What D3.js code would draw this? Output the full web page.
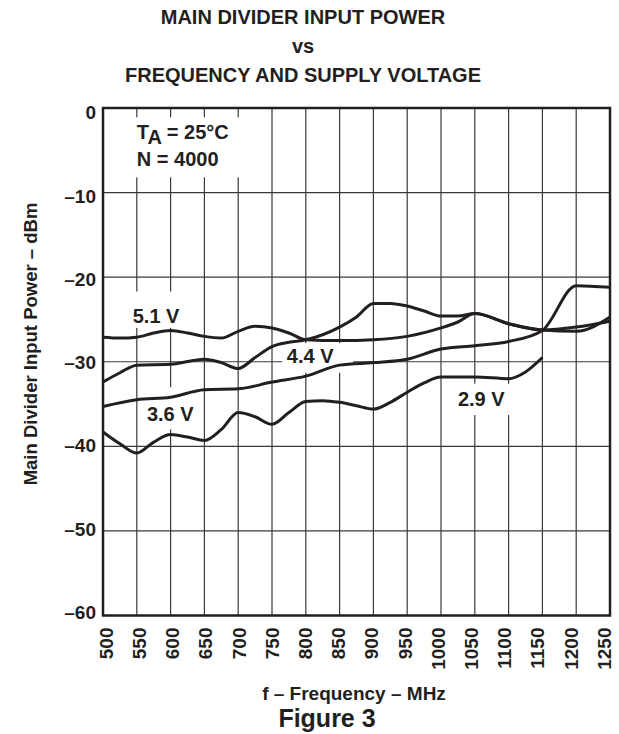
<!DOCTYPE html>
<html>
<head>
<meta charset="utf-8">
<script src="https://cdn.jsdelivr.net/npm/d3@7"></script>
<style>
  body { margin: 0; background: #fff; }
  svg text { font-family: "Liberation Sans", Arial, Helvetica, sans-serif; font-weight: bold; fill: #231f20; }
</style>
</head>
<body>
<svg id="chart" width="619" height="734"></svg>
<script>
// x ticks (MHz) and y ticks (dBm)
const freqTicks = [500, 550, 600, 650, 700, 750, 800, 850, 900, 950, 1000, 1050, 1100, 1150, 1200, 1250];
const powerTicks = [0, -10, -20, -30, -40, -50, -60];

// supply voltage curves
const v51Freq = [500, 525, 550, 575, 600, 625, 650, 675, 700, 725, 750, 775, 800, 850, 900, 950, 1000, 1025, 1050, 1100, 1150, 1200, 1250];
const v51 = [-27.1, -27.2, -27.1, -26.6, -26.3, -26.6, -27.0, -27.2, -26.4, -25.8, -26.0, -26.6, -27.4, -27.5, -27.4, -27.0, -26.0, -25.3, -24.3, -25.5, -26.25, -25.9, -25.2];

const v44Freq = [500, 525, 550, 600, 650, 675, 700, 725, 750, 775, 800, 850, 875, 900, 925, 950, 975, 1000, 1025, 1050, 1100, 1150, 1200, 1250];
const v44 = [-32.4, -31.3, -30.4, -30.3, -29.7, -30.1, -30.8, -29.5, -28.2, -27.7, -27.4, -25.9, -24.7, -23.1, -23.1, -23.4, -24.0, -24.6, -24.6, -24.3, -25.5, -26.25, -26.4, -24.7];

const v36Freq = [500, 550, 600, 650, 700, 750, 800, 850, 900, 950, 1000, 1050, 1100, 1150, 1200, 1250];
const v36 = [-35.3, -34.5, -34.2, -33.3, -33.2, -32.4, -31.7, -30.4, -30.1, -29.7, -28.5, -28.1, -27.6, -26.3, -21.0, -21.2];

const v29Freq = [500, 525, 550, 575, 600, 625, 650, 675, 700, 725, 750, 775, 800, 825, 850, 875, 900, 925, 950, 975, 1000, 1050, 1100, 1125, 1150];
const v29 = [-38.3, -39.7, -40.8, -39.5, -38.6, -38.9, -39.3, -38.0, -36.0, -36.5, -37.4, -36.0, -34.7, -34.6, -34.8, -35.2, -35.6, -34.8, -33.6, -32.5, -31.8, -31.8, -32.0, -31.2, -29.5];

const seriesFreq = [v51Freq, v44Freq, v36Freq, v29Freq];
const seriesVals = [v51, v44, v36, v29];

const svg = d3.select("#chart");
const plotL = 103, plotR = 610, plotT = 108, plotB = 615.5;

const x = d3.scaleLinear().domain([500, 1250]).range([plotL, plotR]);
const y = d3.scaleLinear().domain([-60, 0]).range([plotB, plotT]);
// tick labels sit a little inside the end grid lines
const xLbl = d3.scaleLinear().domain([500, 1250]).range([plotL + 3, plotR - 6]);
const yLbl = d3.scaleLinear().domain([-60, 0]).range([plotB - 4, plotT + 4]);

// grid
const grid = svg.append("g").attr("stroke", "#3a3a3a").attr("stroke-width", 1.2);
grid.selectAll("line.v").data(freqTicks.slice(1, -1)).join("line")
  .attr("class", "v")
  .attr("x1", d => x(d)).attr("x2", d => x(d))
  .attr("y1", plotT).attr("y2", plotB);
grid.selectAll("line.h").data(powerTicks.slice(1, -1)).join("line")
  .attr("class", "h")
  .attr("x1", plotL).attr("x2", plotR)
  .attr("y1", d => y(d)).attr("y2", d => y(d));

// white boxes behind the in-plot labels (they break the grid)
const boxes = [
  [x(528), y(-1.1), x(710) - x(528), y(-8.2) - y(-1.1)],
  [x(532), y(-21.7), x(620) - x(532), y(-26.0) - y(-21.7)],
  [x(765), y(-27.8), x(870) - x(765), y(-31.3) - y(-27.8)],
  [x(553), y(-33.0), x(640) - x(553), y(-38.0) - y(-33.0)],
  [x(1012), y(-32.6), x(1105) - x(1012), y(-36.3) - y(-32.6)]
];
svg.append("g").selectAll("rect").data(boxes).join("rect")
  .attr("x", d => d[0]).attr("y", d => d[1])
  .attr("width", d => d[2]).attr("height", d => d[3])
  .attr("fill", "#fff");

// curves
const line = d3.line()
  .x(d => x(d[0]))
  .y(d => y(d[1]))
  .curve(d3.curveMonotoneX);

svg.append("g").selectAll("path")
  .data(seriesVals.map((vals, i) => vals.map((v, j) => [seriesFreq[i][j], v])))
  .join("path")
  .attr("d", line)
  .attr("fill", "none")
  .attr("stroke", "#231f20")
  .attr("stroke-width", 3);

// frame
svg.append("rect")
  .attr("x", plotL).attr("y", plotT)
  .attr("width", plotR - plotL).attr("height", plotB - plotT)
  .attr("fill", "none").attr("stroke", "#231f20").attr("stroke-width", 2.5);

// axes (labels only)
const xAxis = svg.append("g")
  .attr("transform", `translate(0,${plotB})`)
  .call(d3.axisBottom(xLbl).tickValues(freqTicks).tickSize(0).tickPadding(0).tickFormat(d3.format("d")));
xAxis.select(".domain").remove();
xAxis.selectAll(".tick").attr("transform", null);
xAxis.selectAll("text")
  .attr("transform", d => `translate(${xLbl(d)},12) rotate(-90)`)
  .attr("x", 0).attr("y", 0)
  .attr("text-anchor", "end")
  .attr("dy", "0.36em")
  .style("font-size", "19px");

const yAxis = svg.append("g")
  .attr("transform", `translate(${plotL},0)`)
  .call(d3.axisLeft(yLbl).tickValues(powerTicks).tickSize(0).tickPadding(7)
    .tickFormat(d => d === 0 ? "0" : "\u2013" + Math.abs(d)));
yAxis.select(".domain").remove();
yAxis.selectAll("text").style("font-size", "19px").attr("dy", "0.36em");

// titles
const title = svg.append("g").attr("text-anchor", "middle").style("font-size", "20px");
title.append("text").attr("x", 303).attr("y", 24).text("MAIN DIVIDER INPUT POWER");
title.append("text").attr("x", 303).attr("y", 53).text("vs");
title.append("text").attr("x", 303).attr("y", 82).text("FREQUENCY AND SUPPLY VOLTAGE");

svg.append("text")
  .attr("transform", "translate(37,344) rotate(-90)")
  .attr("text-anchor", "middle")
  .style("font-size", "18.5px")
  .text("Main Divider Input Power \u2013 dBm");

svg.append("text")
  .attr("x", 354).attr("y", 700)
  .attr("text-anchor", "middle")
  .style("font-size", "19px")
  .text("f \u2013 Frequency \u2013 MHz");

svg.append("text")
  .attr("x", 327).attr("y", 727)
  .attr("text-anchor", "middle")
  .style("font-size", "25px")
  .text("Figure 3");

// annotation
const note = svg.append("text").attr("x", x(550)).attr("y", 139).style("font-size", "20px");
note.append("tspan").text("T");
note.append("tspan").attr("dy", 5).text("A");
note.append("tspan").attr("dy", -5).text(" = 25\u00b0C");
svg.append("text").attr("x", x(550)).attr("y", 166).style("font-size", "20px").text("N = 4000");

// curve labels
const curveLabels = ["5.1 V", "4.4 V", "3.6 V", "2.9 V"];
const labelAt = [[544, -25.4], [772, -30.2], [565, -37.0], [1025, -35.2]];
svg.append("g").style("font-size", "20px").selectAll("text")
  .data(curveLabels).join("text")
  .attr("x", (d, i) => x(labelAt[i][0]))
  .attr("y", (d, i) => y(labelAt[i][1]))
  .text(d => d);
</script>
</body>
</html>
